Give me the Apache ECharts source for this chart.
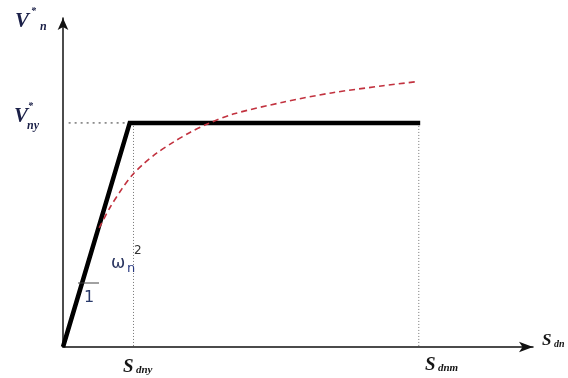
<!DOCTYPE html>
<html><head><meta charset="utf-8">
<script src="https://cdn.jsdelivr.net/npm/echarts@6/dist/echarts.min.js"></script>
<style>html,body{margin:0;padding:0;background:#fff}#c{width:568px;height:378px}</style>
</head><body><div id="c"></div>
<script>
// ---- data (abstract units, x: S_dn, y: V*_n) ----
const bilinearX = [0, 1.42, 7.6];
const bilinearY = [0, 6.81, 6.81];
const curveX = [0.77, 1.00, 1.26, 1.47, 1.70, 2.00, 2.34, 2.70, 3.06, 3.62, 4.68, 5.74, 6.81, 7.55];
const curveY = [3.62, 4.24, 4.82, 5.22, 5.55, 5.90, 6.22, 6.52, 6.77, 7.08, 7.44, 7.73, 7.94, 8.07];
const Sdny = 1.5, Sdnm = 7.57, Vny = 6.81, guideStartX = 0.12;
const labelsX = ['S', 'dny', 'S', 'dnm', 'S', 'dn'];
const labelsY = ['V', '*', 'n', 'V', '*', 'ny'];
const slopeLabels = ['ω', 'n', '2', '1'];

const chart = echarts.init(document.getElementById('c'), null, {renderer: 'canvas'});
const serif = '"Liberation Serif", "DejaVu Serif", serif';
const navy = '#1b2048';
function txt(x, y, t, size, opts) {
  opts = opts || {};
  return {type: 'text', left: x, top: y, z: 100, style: {
    text: t, fill: opts.color || navy,
    font: (opts.style || 'italic bold') + ' ' + size + 'px ' + (opts.family || serif)
  }};
}
const option = {
  animation: false,
  grid: {left: 63, top: 18, right: 35, bottom: 31, containLabel: false},
  xAxis: {type: 'value', min: 0, max: 10, splitLine: {show: false}, axisTick: {show: false}, axisLabel: {show: false},
    axisLine: {lineStyle: {color: '#111', width: 1.5}, symbol: ['none', 'arrow'], symbolSize: [8, 14]}},
  yAxis: {type: 'value', min: 0, max: 10, splitLine: {show: false}, axisTick: {show: false}, axisLabel: {show: false},
    axisLine: {lineStyle: {color: '#111', width: 1.5}, symbol: ['none', 'arrow'], symbolSize: [8, 12]}},
  series: [
    {type: 'line', data: [[guideStartX, Vny], [bilinearX[1], Vny]], symbol: 'none',
     lineStyle: {color: '#333', width: 1, type: [2, 4]}, z: 1},
    {type: 'line', data: [[Sdny, Vny], [Sdny, 0]], symbol: 'none',
     lineStyle: {color: '#777', width: 1, type: [1, 2]}, z: 1},
    {type: 'line', data: [[Sdnm, Vny], [Sdnm, 0]], symbol: 'none',
     lineStyle: {color: '#777', width: 1, type: [1, 2]}, z: 1},
    {type: 'line', data: bilinearX.map((x, i) => [x, bilinearY[i]]), symbol: 'none',
     lineStyle: {color: '#000', width: 4.5, join: 'miter'}, z: 3},
    {type: 'line', data: curveX.map((x, i) => [x, curveY[i]]), symbol: 'none', smooth: 0.3,
     lineStyle: {color: '#c2323f', width: 1.6, type: [6, 4]}, z: 4}
  ],
  graphic: [
    txt(15, 11, labelsY[0], 21), txt(31, 6, labelsY[1], 10), txt(40, 21, labelsY[2], 12),
    txt(14, 106, labelsY[3], 21), txt(28, 101, labelsY[4], 10), txt(27, 120, labelsY[5], 12),
    txt(123, 358, labelsX[0], 19, {color: '#151515'}), txt(136, 365, labelsX[1], 11, {color: '#151515'}),
    txt(425, 356, labelsX[2], 19, {color: '#151515'}), txt(438, 363, labelsX[3], 11, {color: '#151515'}),
    txt(542, 332, labelsX[4], 17, {color: '#151515'}), txt(554, 339, labelsX[5], 10, {color: '#151515'}),
    txt(111, 255, slopeLabels[0], 17, {style: 'normal', family: '"DejaVu Sans", sans-serif', color: '#2a3560'}),
    txt(127, 262, slopeLabels[1], 13, {style: 'normal', family: '"DejaVu Sans", sans-serif', color: '#2a3a80'}),
    txt(134, 245, slopeLabels[2], 12, {style: 'normal', family: '"DejaVu Sans", sans-serif', color: '#333'}),
    txt(84, 290, slopeLabels[3], 16, {style: 'normal', family: '"DejaVu Sans", sans-serif', color: '#2a3a6b'}),
    {type: 'line', z: 100, shape: {x1: 78, y1: 283, x2: 99, y2: 283}, style: {stroke: '#444', lineWidth: 1}}
  ]
};
chart.setOption(option);
</script></body></html>
